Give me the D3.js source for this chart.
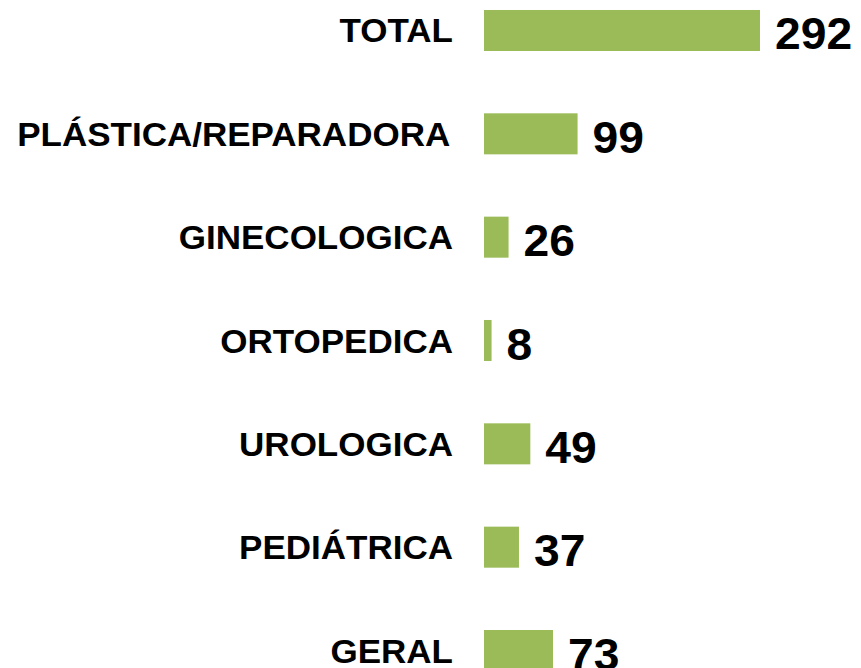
<!DOCTYPE html>
<html lang="pt">
<head>
    <meta charset="UTF-8">
    <title>Cirurgias por especialidade</title>
    <script src="https://d3js.org/d3.v7.min.js"></script>
    <style>
        html, body { margin: 0; padding: 0; background: #fff; }
        svg { display: block; }
        text { font-family: "Liberation Sans", Arial, sans-serif; font-weight: bold; fill: #000; }
    </style>
</head>
<body>
    <svg width="861" height="668"></svg>
    <script>
        const categories = ["TOTAL", "PLÁSTICA/REPARADORA", "GINECOLOGICA", "ORTOPEDICA", "UROLOGICA", "PEDIÁTRICA", "GERAL"];
        const values = [292, 99, 26, 8, 49, 37, 73];

        const svg = d3.select("svg");

        const xScale = d3.scaleLinear().domain([0, 292]).range([484, 760]);
        const yScale = d3.scaleBand()
            .domain(categories)
            .range([-21.17, 702.17])
            .paddingInner(0.603)
            .paddingOuter(0.3015);

        const rows = categories.map((c, i) => ({ name: c, value: values[i] }));
        const labelRight = 453, labelLeft = 17, stretch = 1.03;

        // barras
        svg.selectAll("rect")
            .data(rows)
            .enter().append("rect")
            .attr("x", xScale(0))
            .attr("y", d => yScale(d.name))
            .attr("width", d => xScale(d.value) - xScale(0))
            .attr("height", yScale.bandwidth())
            .attr("fill", "#9bbb59");

        // rótulos das categorias (texto um pouco esticado na horizontal)
        const labels = svg.selectAll("text.label")
            .data(rows)
            .enter().append("text")
            .attr("class", "label")
            .attr("text-anchor", "end")
            .style("font-size", "34px")
            .text(d => d.name);

        labels.each(function(d) {
            const w = this.getComputedTextLength() * stretch;
            // rótulo longo demais: encosta na margem esquerda
            const right = labelRight - w < labelLeft + 15 ? labelLeft + w : labelRight;
            const cy = yScale(d.name) + yScale.bandwidth() / 2 + 12;
            d3.select(this).attr("transform", `translate(${right},${cy}) scale(${stretch},1)`);
        });

        // valores
        svg.selectAll("text.value")
            .data(rows)
            .enter().append("text")
            .attr("class", "value")
            .attr("transform", d => `translate(${xScale(d.value) + 15},${yScale(d.name) + yScale.bandwidth() / 2 + 19}) scale(1.05,1)`)
            .style("font-size", "44px")
            .text(d => d.value);
    </script>
</body>
</html>
